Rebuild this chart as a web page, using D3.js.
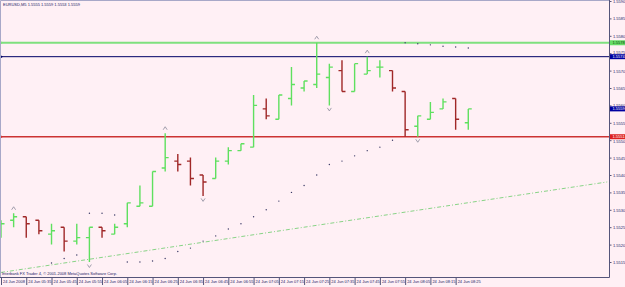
<!DOCTYPE html>
<html>
<head>
<meta charset="utf-8">
<script src="https://cdn.jsdelivr.net/npm/d3@7"></script>
<style>
  body { margin: 0; background: #fff0f5; }
  svg { display: block; }
  text { font-family: "Liberation Sans", Arial, sans-serif; }
</style>
</head>
<body>
<div id="chart"></div>
<script>
// EURUSD M5, 24 Jun 2008, bars from 05:25 to 08:30
const openP  = [1.5523,1.5527,1.5528,1.5527,1.5523,1.5525,1.5521,1.5522,1.5525,1.5523,1.5526,1.5531,1.5531,1.5542,1.5544,1.5544,1.5540,1.5539,1.5544,1.5547,1.5548,1.5559,1.5556,1.5562,1.5565,1.5566,1.5568,1.5570,1.5564,1.5569,1.5571,1.5570,1.5564,1.5554,1.5556,1.5559,1.5562,1.5555];
const highP  = [1.5527,1.5529,1.5528,1.5527,1.5526,1.5525,1.5526,1.5525,1.5525,1.5526,1.5532,1.5537,1.5541,1.5552,1.5546,1.5545,1.5540,1.5545,1.5548,1.5549,1.5563,1.5562,1.5563,1.5571,1.5567,1.5578,1.5572,1.5573,1.5572,1.5574,1.5573,1.5570,1.5564,1.5557,1.5561,1.5562,1.5562,1.5559];
const lowP   = [1.5522,1.5525,1.5522,1.5523,1.5520,1.5518,1.5520,1.5515,1.5522,1.5523,1.5525,1.5531,1.5531,1.5541,1.5541,1.5537,1.5534,1.5539,1.5543,1.5547,1.5548,1.5556,1.5556,1.5560,1.5564,1.5565,1.5560,1.5564,1.5564,1.5569,1.5568,1.5564,1.5551,1.5551,1.5556,1.5559,1.5553,1.5553];
const closeP = [1.5526,1.5528,1.5526,1.5524,1.5524,1.5521,1.5522,1.5525,1.5524,1.5525,1.5532,1.5532,1.5541,1.5545,1.5543,1.5539,1.5538,1.5544,1.5547,1.5549,1.5560,1.5557,1.5563,1.5566,1.5567,1.5569,1.5571,1.5564,1.5572,1.5570,1.5571,1.5565,1.5553,1.5557,1.5558,1.5561,1.5556,1.5559];

// parabolic SAR dots
const sar = [null,null,null,null,1.55147,1.5516,1.5517,1.5529,1.5529,1.55285,1.5515,1.5515,1.55153,1.5516,1.5518,1.5519,1.5521,1.55225,1.55245,1.5526,1.5528,1.5530,1.55325,1.5535,1.5537,1.5540,1.5543,1.5544,1.55455,1.5547,1.5548,1.5550,1.5578,1.55777,1.55774,1.5577,1.55768,1.55765];

// fractal arrows (bar indices)
const fractalUp = [1, 13, 25, 29];
const fractalDown = [7, 16, 26, 33];

// horizontal lines
const levelPrices = [1.5578, 1.5574, 1.5551];
const levelColors = ["#7ee07e", "#000066", "#cc3333"];
const levelWidths = [2, 1, 1.5];
const bidPrice = 1.5559;

// trend line: [bar index, price]
const trendLine = [[0, 1.5512], [48, 1.5538]];

const yTicks = [1.5515,1.5520,1.5525,1.5530,1.5535,1.5540,1.5545,1.5550,1.5555,1.5560,1.5565,1.5570,1.5575,1.5580,1.5585,1.5590];
const xTickBars = [0,2,4,6,8,10,12,14,16,18,20,22,24,26,28,30,32,34,36];
const xTickLabels = ["24 Jun 2008","24 Jun 05:35","24 Jun 05:45","24 Jun 05:55","24 Jun 06:05","24 Jun 06:15","24 Jun 06:25","24 Jun 06:35","24 Jun 06:45","24 Jun 06:55","24 Jun 07:05","24 Jun 07:15","24 Jun 07:25","24 Jun 07:35","24 Jun 07:45","24 Jun 07:55","24 Jun 08:05","24 Jun 08:15","24 Jun 08:25"];

const width = 625, height = 287;
const plotRight = 609, plotBottom = 277;
const upColor = "#5fe05f", downColor = "#a02828";
const textColor = "#1a1a66";
const boxH = 5;

const svg = d3.select("#chart")
  .append("svg")
  .attr("width", width)
  .attr("height", height);

svg.append("rect")
  .attr("width", width)
  .attr("height", height)
  .attr("fill", "#fff0f5");

const x = d3.scaleLinear().domain([0, 48]).range([1, 607.2]);
const y = d3.scaleLinear().domain([1.5515, 1.5590]).range([262, 1]);

const plot = svg.append("g");
svg.append("clipPath").attr("id", "clip")
  .append("rect").attr("x", 0).attr("y", 0).attr("width", plotRight).attr("height", plotBottom);
plot.attr("clip-path", "url(#clip)");

// frame
svg.append("path")
  .attr("d", `M0.5,${plotBottom} V0.5 H${plotRight}`)
  .attr("fill", "none").attr("stroke", "#a8a8c8");
svg.append("path")
  .attr("d", `M0,${plotBottom + 0.5} H${plotRight + 0.5} V0`)
  .attr("fill", "none").attr("stroke", "#55557a");

// trend line
plot.append("line")
  .attr("x1", x(trendLine[0][0])).attr("y1", y(trendLine[0][1]))
  .attr("x2", x(trendLine[1][0])).attr("y2", y(trendLine[1][1]))
  .attr("stroke", "#6acc6a")
  .attr("stroke-width", 0.8)
  .attr("stroke-dasharray", "4,2,1,2");

// horizontal levels
levelPrices.forEach((p, k) => {
  plot.append("line")
    .attr("x1", 0).attr("x2", plotRight)
    .attr("y1", y(p)).attr("y2", y(p))
    .attr("stroke", levelColors[k])
    .attr("stroke-width", levelWidths[k]);
  plot.append("path")
    .attr("d", `M0,${y(p) - 2} L3,${y(p)} L0,${y(p) + 2} Z`)
    .attr("fill", levelColors[k]);
});

// bars
const idx = d3.range(openP.length);
plot.append("g")
  .selectAll("path")
  .data(idx)
  .join("path")
  .attr("d", i => {
    const xi = x(i);
    return `M${xi},${y(highP[i])} V${y(lowP[i])}` +
      ` M${xi - 3.5},${y(openP[i])} H${xi}` +
      ` M${xi},${y(closeP[i])} H${xi + 3.5}`;
  })
  .attr("fill", "none")
  .attr("stroke", i => closeP[i] >= openP[i] ? upColor : downColor)
  .attr("stroke-width", 1.4);

// SAR dots
plot.append("g")
  .selectAll("circle")
  .data(idx.filter(i => sar[i] != null))
  .join("circle")
  .attr("cx", i => x(i))
  .attr("cy", i => y(sar[i]))
  .attr("r", 0.7)
  .attr("fill", "#3a3a66");

// fractals
plot.append("g")
  .selectAll("path")
  .data(fractalUp)
  .join("path")
  .attr("d", i => { const xi = x(i), yy = y(highP[i]) - 5; return `M${xi - 2},${yy + 1.5} L${xi},${yy - 1.5} L${xi + 2},${yy + 1.5}`; })
  .attr("fill", "none").attr("stroke", "#8a8a9a").attr("stroke-width", 0.8);
plot.append("g")
  .selectAll("path")
  .data(fractalDown)
  .join("path")
  .attr("d", i => { const xi = x(i), yy = y(lowP[i]) + 4; return `M${xi - 2},${yy - 1.5} L${xi},${yy + 1.5} L${xi + 2},${yy - 1.5}`; })
  .attr("fill", "none").attr("stroke", "#8a8a9a").attr("stroke-width", 0.8);

// price labels on the axis
const priceBoxes = [
  { p: levelPrices[0], bg: "#66dd66", fg: "#104010" },
  { p: levelPrices[1], bg: "#0000a0", fg: "#ffffff" },
  { p: bidPrice, bg: "#0000a0", fg: "#ffffff" },
  { p: levelPrices[2], bg: "#dd2222", fg: "#ffffff" }
];

// right price axis
const yAxis = svg.append("g")
  .attr("transform", `translate(${plotRight + 0.5},0)`)
  .call(d3.axisRight(y).tickValues(yTicks).tickSize(2).tickPadding(1.5).tickFormat(d3.format(".4f")));
yAxis.select(".domain").remove();
yAxis.selectAll("line").attr("stroke", "#55557a");
yAxis.selectAll("text")
  .attr("font-size", 4).attr("fill", textColor)
  .attr("font-family", "Liberation Sans, Arial, sans-serif")
  .attr("dy", null)
  .attr("y", t => {
    // baseline a little below the tick; nudge away from a box that would cover it
    let base = 1.4;
    priceBoxes.forEach(b => {
      const top = y(b.p) - boxH / 2, bottom = y(b.p) + boxH / 2;
      const ty = y(t);
      if (ty + base > top && ty + base - 3 < bottom) {
        base = ty < y(b.p) ? top - 0.3 - ty : bottom + 3.2 - ty;
      }
    });
    return base;
  });

priceBoxes.forEach(b => {
  svg.append("rect")
    .attr("x", plotRight + 1).attr("y", y(b.p) - boxH / 2)
    .attr("width", width - plotRight - 1).attr("height", boxH)
    .attr("fill", b.bg);
  svg.append("text")
    .attr("x", plotRight + 3.5).attr("y", y(b.p) + 1.4)
    .attr("font-size", 4).attr("fill", b.fg)
    .text(d3.format(".4f")(b.p));
});

// bottom time axis
const xAxis = svg.append("g")
  .attr("transform", `translate(0,${plotBottom + 1})`)
  .call(d3.axisBottom(x).tickValues(xTickBars).tickSize(7).tickFormat((d, i) => xTickLabels[i]));
xAxis.select(".domain").remove();
xAxis.selectAll("line").attr("stroke", "#55557a");
xAxis.selectAll("text")
  .attr("font-size", 4)
  .attr("fill", textColor)
  .attr("font-family", "Liberation Sans, Arial, sans-serif")
  .attr("text-anchor", "start")
  .attr("x", 1.5)
  .attr("y", 2)
  .attr("dy", "0.71em");

// title and copyright
svg.append("text")
  .attr("x", 3).attr("y", 6)
  .attr("font-size", 4).attr("fill", textColor)
  .text("EURUSD,M5 1.5555 1.5559 1.5553 1.5559");

svg.append("text")
  .attr("x", 2).attr("y", 275)
  .attr("font-size", 4).attr("fill", textColor)
  .text("Interbank FX Trader 4, © 2001-2008 MetaQuotes Software Corp.");
</script>
</body>
</html>
